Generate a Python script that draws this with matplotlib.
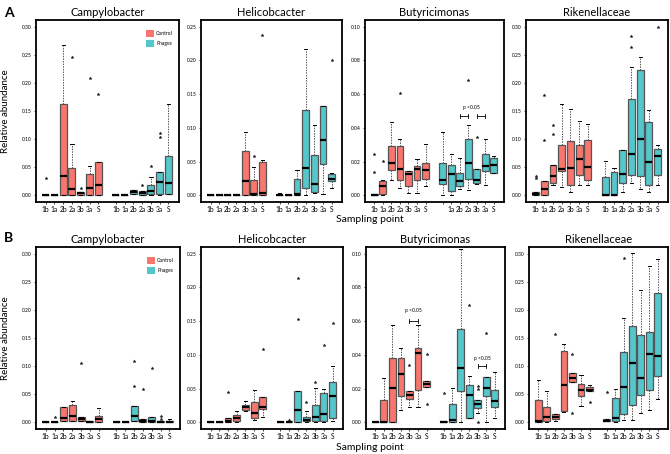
import matplotlib.pyplot as plt
from matplotlib.patches import Patch

plt.rcParams['font.family'] = ['Lato', 'DejaVu Sans']

points = ['1b', '1a', '2b', '2a', '3b', '3a', 'S']
ctrl_col = '#F8766D'
phage_col = '#55C6CA'

# every box: (lower whisker, q1, median, q3, upper whisker)
# ---- A ----
a_campy_ctrl = [(0, 0, 0, 0.001, 0.001), (0, 0, 0, 0.001, 0.001), (0, 0, 0.035, 0.162, 0.268),
                (0, 0, 0.011, 0.049, 0.092), (0.001, 0.001, 0.004, 0.005, 0.005),
                (0, 0.001, 0.013, 0.038, 0.052), (0.001, 0.001, 0.019, 0.060, 0.060)]
a_campy_ctrl_out = [[0.030], [], [], [0.246], [0.013], [0.209], [0.181]]
a_campy_phage = [(0, 0, 0, 0.001, 0.001), (0, 0, 0.001, 0.001, 0.002), (0.003, 0.003, 0.006, 0.010, 0.010),
                 (0.001, 0.001, 0.004, 0.007, 0.007), (0.001, 0.002, 0.008, 0.018, 0.033),
                 (0, 0.002, 0.024, 0.041, 0.041), (0.003, 0.003, 0.021, 0.070, 0.163)]
a_campy_phage_out = [[], [], [], [0.019], [0.052], [0.110, 0.104], []]

a_helico_ctrl = [(0, 0, 0, 0.001, 0.002), (0, 0, 0, 0.001, 0.001), (0, 0, 0, 0.001, 0.001),
                 (0, 0.001, 0.001, 0.001, 0.001), (0, 0, 0.021, 0.065, 0.094),
                 (0.001, 0.001, 0.002, 0.022, 0.042), (0.001, 0.001, 0.004, 0.050, 0.052)]
a_helico_ctrl_out = [[], [], [], [], [], [0.058], [0.238]]
a_helico_phage = [(0, 0, 0.001, 0.001, 0.003), (0, 0, 0, 0.001, 0.001), (0.001, 0.001, 0.002, 0.024, 0.037),
                  (0, 0.011, 0.041, 0.126, 0.217), (0.004, 0.005, 0.017, 0.059, 0.104),
                  (0.002, 0.046, 0.082, 0.132, 0.132), (0.011, 0.021, 0.024, 0.031, 0.033)]
a_helico_phage_out = [[], [], [], [], [], [], [0.201]]

a_butyr_ctrl = [(0, 0, 0.0002, 0.001, 0.001), (0.0004, 0.0006, 0.0053, 0.0084, 0.009),
                (0.0088, 0.0147, 0.0192, 0.029, 0.0435), (0.0045, 0.0092, 0.0153, 0.0294, 0.0333),
                (0.0014, 0.0055, 0.0124, 0.0141, 0.0143), (0.0014, 0.0088, 0.0153, 0.0173, 0.0216),
                (0.0055, 0.0098, 0.0151, 0.019, 0.0304)]
a_butyr_ctrl_out = [[0.0245, 0.0137], [0.0206], [], [0.0604], [], [], []]
a_butyr_phage = [(0.0004, 0.0065, 0.0088, 0.019, 0.0376), (0.0004, 0.0025, 0.0124, 0.0182, 0.0245),
                 (0.0039, 0.0053, 0.0084, 0.0133, 0.022), (0.0033, 0.0098, 0.0192, 0.0333, 0.0416),
                 (0.0065, 0.0073, 0.0088, 0.0157, 0.0157), (0.0063, 0.0141, 0.0176, 0.0245, 0.0333),
                 (0.0133, 0.0133, 0.018, 0.0222, 0.0235)]
a_butyr_phage_out = [[], [], [], [0.0682], [0.0347], [], []]

a_riken_ctrl = [(0.001, 0.001, 0.003, 0.006, 0.006), (0.0006, 0.0006, 0.011, 0.025, 0.025),
                (0.018, 0.021, 0.035, 0.054, 0.054), (0.014, 0.043, 0.046, 0.089, 0.163),
                (0.005, 0.019, 0.048, 0.097, 0.154), (0.018, 0.036, 0.064, 0.089, 0.132),
                (0.018, 0.028, 0.051, 0.098, 0.126)]
a_riken_ctrl_out = [[0.031, 0.035], [0.099, 0.179], [0.109, 0.125], [], [], [], []]
a_riken_phage = [(0.0006, 0.0006, 0.001, 0.033, 0.061), (0.0006, 0.0006, 0.001, 0.041, 0.048),
                 (0.006, 0.022, 0.037, 0.081, 0.081), (0.021, 0.036, 0.074, 0.171, 0.229),
                 (0.012, 0.034, 0.101, 0.223, 0.247), (0.006, 0.019, 0.059, 0.130, 0.151),
                 (0.018, 0.036, 0.070, 0.083, 0.089)]
a_riken_phage_out = [[], [], [], [0.283, 0.264], [], [], [0.300]]

# ---- B ----
b_campy_ctrl = [(0, 0, 0, 0.001, 0.001), (0, 0, 0.001, 0.001, 0.002), (0.002, 0.003, 0.007, 0.028, 0.028),
                (0.002, 0.003, 0.012, 0.031, 0.038), (0.003, 0.003, 0.005, 0.009, 0.009),
                (0, 0, 0.001, 0.002, 0.002), (0.001, 0.001, 0.005, 0.011, 0.026)]
b_campy_ctrl_out = [[], [0.010], [], [], [0.106], [], []]
b_campy_phage = [(0, 0, 0, 0.001, 0.001), (0, 0, 0.001, 0.001, 0.002), (0.002, 0.003, 0.012, 0.029, 0.029),
                 (0.001, 0.001, 0.003, 0.005, 0.005), (0.001, 0.001, 0.002, 0.010, 0.010),
                 (0, 0, 0.001, 0.002, 0.002), (0, 0, 0.001, 0.002, 0.005)]
b_campy_phage_out = [[], [], [0.109, 0.065], [0.060], [0.096], [0.011, 0.006], []]

b_helico_ctrl = [(0, 0, 0, 0.001, 0.001), (0, 0, 0, 0.001, 0.001), (0, 0, 0.002, 0.006, 0.006),
                 (0.001, 0.002, 0.007, 0.011, 0.016), (0.017, 0.018, 0.022, 0.025, 0.032),
                 (0.003, 0.007, 0.013, 0.030, 0.048), (0.008, 0.019, 0.022, 0.037, 0.037)]
b_helico_ctrl_out = [[], [], [0.045], [], [], [], [0.108]]
b_helico_phage = [(0, 0, 0.001, 0.001, 0.002), (0, 0, 0.001, 0.002, 0.002), (0, 0, 0.018, 0.046, 0.046),
                  (0.001, 0.002, 0.004, 0.008, 0.017), (0.001, 0.002, 0.008, 0.026, 0.051),
                  (0.001, 0.002, 0.012, 0.043, 0.049), (0.002, 0.006, 0.039, 0.059, 0.084)]
b_helico_phage_out = [[], [0.004], [0.214, 0.153], [0.030], [0.060], [0.115], [0.147]]

b_butyr_ctrl = [(0, 0, 0, 0.0004, 0.0004), (0, 0, 0.0004, 0.0133, 0.0265),
                (0, 0.0004, 0.0203, 0.0384, 0.058), (0.0074, 0.0155, 0.0285, 0.0384, 0.0438),
                (0.009, 0.014, 0.016, 0.0183, 0.0183), (0.009, 0.0193, 0.0412, 0.0438, 0.058),
                (0.021, 0.021, 0.0225, 0.0245, 0.0245)]
b_butyr_ctrl_out = [[], [], [], [], [0.0339], [], [0.0408, 0.0106]]
b_butyr_phage = [(0, 0, 0.0004, 0.001, 0.001), (0.0004, 0.0004, 0.0012, 0.0106, 0.0203),
                 (0, 0.0183, 0.0323, 0.0554, 0.1026), (0.0026, 0.0026, 0.016, 0.0223, 0.0275),
                 (0.0054, 0.0086, 0.0106, 0.013, 0.013), (0, 0.0155, 0.0203, 0.0269, 0.0269),
                 (0.0026, 0.009, 0.0124, 0.0193, 0.0299)]
b_butyr_phage_out = [[0.0173], [], [], [0.0697], [0.0213, 0.0200, 0.0004], [0.0528], []]

b_riken_ctrl = [(0, 0, 0.003, 0.039, 0.075), (0.001, 0.002, 0.010, 0.027, 0.055),
                (0.002, 0.006, 0.009, 0.015, 0.015), (0.018, 0.020, 0.067, 0.126, 0.140),
                (0.072, 0.072, 0.079, 0.088, 0.088), (0.029, 0.046, 0.057, 0.069, 0.085),
                (0.055, 0.055, 0.057, 0.062, 0.066)]
b_riken_ctrl_out = [[], [], [0.157], [], [0.122, 0.016], [], [0.036]]
b_riken_phage = [(0.002, 0.002, 0.003, 0.006, 0.006), (0.001, 0.003, 0.007, 0.044, 0.060),
                 (0.004, 0.015, 0.063, 0.125, 0.185), (0.004, 0.030, 0.105, 0.172, 0.302),
                 (0.016, 0.049, 0.078, 0.155, 0.236), (0.021, 0.057, 0.122, 0.161, 0.279),
                 (0.041, 0.082, 0.118, 0.230, 0.291)]
b_riken_phage_out = [[0.054], [], [0.292], [], [], [], []]

titles = ['Campylobacter', 'Helicobcacter', 'Butyricimonas', 'Rikenellaceae']
ymax = [0.30, 0.25, 0.10, 0.30]
yticks = [0.05, 0.05, 0.02, 0.05]

rows = [
    [(a_campy_ctrl, a_campy_ctrl_out, a_campy_phage, a_campy_phage_out),
     (a_helico_ctrl, a_helico_ctrl_out, a_helico_phage, a_helico_phage_out),
     (a_butyr_ctrl, a_butyr_ctrl_out, a_butyr_phage, a_butyr_phage_out),
     (a_riken_ctrl, a_riken_ctrl_out, a_riken_phage, a_riken_phage_out)],
    [(b_campy_ctrl, b_campy_ctrl_out, b_campy_phage, b_campy_phage_out),
     (b_helico_ctrl, b_helico_ctrl_out, b_helico_phage, b_helico_phage_out),
     (b_butyr_ctrl, b_butyr_ctrl_out, b_butyr_phage, b_butyr_phage_out),
     (b_riken_ctrl, b_riken_ctrl_out, b_riken_phage, b_riken_phage_out)],
]

# significance marks: (row, panel, first box index, second box index, bracket height)
sig = [(0, 2, 9, 10, 0.047), (0, 2, 11, 12, 0.047), (1, 2, 4, 5, 0.060), (1, 2, 11, 12, 0.0333)]
# p-value labels: (row, panel, x, y)
sig_text = [(0, 2, 12.4, 0.0506), (1, 2, 5.5, 0.0647), (1, 2, 13.5, 0.0365)]

W, H = 670, 454
fig = plt.figure(figsize=(W / 100, H / 100), dpi=100)
lefts = [[36, 201, 365, 526], [36, 201, 366, 529]]
rights = [[179, 342, 504, 668], [180, 343, 505, 668]]
tops = [20, 247]
bottoms = [202, 429]

pos = list(range(1, 8)) + list(range(9, 16))

axes = {}
for r in range(2):
    for c in range(4):
        ax = fig.add_axes([lefts[r][c] / W, 1 - bottoms[r] / H,
                           (rights[r][c] - lefts[r][c]) / W, (bottoms[r] - tops[r]) / H])
        axes[(r, c)] = ax
        ctrl, ctrl_out, ph, ph_out = rows[r][c]
        stats = []
        for box, out in zip(ctrl + ph, ctrl_out + ph_out):
            stats.append(dict(whislo=box[0], q1=box[1], med=box[2], q3=box[3], whishi=box[4], fliers=out))
        bp = ax.bxp(stats, positions=pos, widths=0.8, patch_artist=True, manage_ticks=False,
                    boxprops=dict(edgecolor='#555555', linewidth=0.9),
                    medianprops=dict(color='black', linewidth=1.6),
                    whiskerprops=dict(color='#555555', linestyle=(0, (1.5, 1.2)), linewidth=0.7),
                    capprops=dict(color='black', linewidth=0.7),
                    flierprops=dict(marker='*', markersize=2.2, markerfacecolor='#222222',
                                    markeredgecolor='#222222', markeredgewidth=0.3))
        for i, b in enumerate(bp['boxes']):
            b.set_facecolor(ctrl_col if i < 7 else phage_col)
        for cap in bp['caps']:
            x0, x1 = cap.get_xdata()
            m = (x0 + x1) / 2
            cap.set_xdata([m - 0.18, m + 0.18])

        ym = ymax[c]
        ax.set_ylim(-0.04 * ym, ym * 1.04)
        ax.set_xlim(-0.1, 16.2)
        n = int(round(ym / yticks[c]))
        ax.set_yticks([yticks[c] * k for k in range(n + 1)])
        ax.set_yticklabels(['%.2f' % (yticks[c] * k) for k in range(n + 1)])
        labels = points + points
        if r == 0 and c == 2:
            labels = points + [''] + points[1:]
        ax.set_xticks(pos)
        ax.set_xticklabels(labels)
        ax.tick_params(axis='y', labelsize=3.6, length=1.5, width=0.5, pad=1.5)
        ax.tick_params(axis='x', labelsize=4.8, length=1.5, width=0.5, pad=1.5)
        for s in ax.spines.values():
            s.set_linewidth(1.3)
        ax.set_title(titles[c], fontsize=8, pad=3)

for (r, c, i, j, h) in sig:
    ax = axes[(r, c)]
    x0, x1 = pos[i], pos[j]
    d = ymax[c] * 0.012
    ax.plot([x0, x1], [h, h], color='black', lw=0.6)
    ax.plot([x0, x0], [h - d, h + d], color='black', lw=0.6)
    ax.plot([x1, x1], [h - d, h + d], color='black', lw=0.6)

for (r, c, x, y) in sig_text:
    axes[(r, c)].text(x, y, 'p <0.05', fontsize=3.6, ha='center', va='bottom')

for r in range(2):
    axes[(r, 0)].legend(handles=[Patch(facecolor=ctrl_col, edgecolor='none', label='Control'),
                                 Patch(facecolor=phage_col, edgecolor='none', label='Phages')],
                        loc='upper right', bbox_to_anchor=(0.99, 0.97), frameon=False, fontsize=3.6,
                        handlelength=1.6, handleheight=1.8, labelspacing=0.6, handletextpad=0.5)
    axes[(r, 0)].set_ylabel('Relative abundance', fontsize=7, labelpad=9)

fig.text(370 / W, 1 - 220 / H, 'Sampling point', fontsize=7.5, ha='center', va='center')
fig.text(370 / W, 1 - 447 / H, 'Sampling point', fontsize=7.5, ha='center', va='center')
fig.text(4 / W, 1 - 13 / H, 'A', fontsize=10, fontweight='bold', ha='left', va='center')
fig.text(4 / W, 1 - 238 / H, 'B', fontsize=10, fontweight='bold', ha='left', va='center')

fig.savefig('out.png', dpi=100)
